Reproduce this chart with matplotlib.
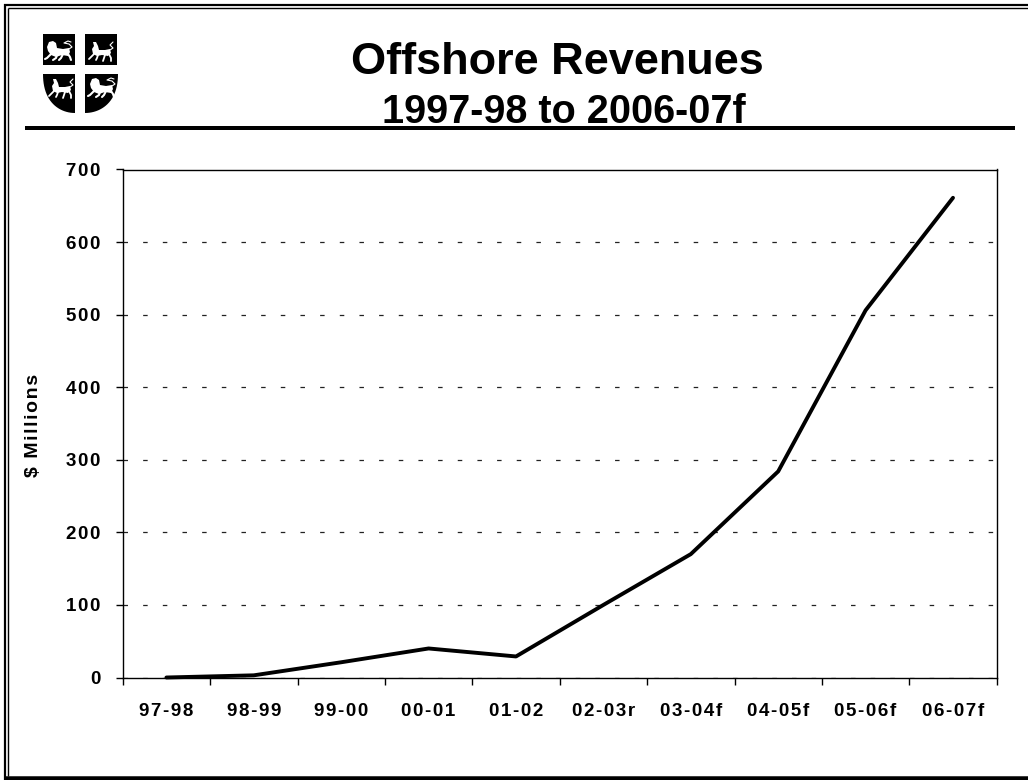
import matplotlib
matplotlib.use("Agg")
import matplotlib.pyplot as plt
from matplotlib.patches import Polygon, Rectangle
from matplotlib.lines import Line2D
import numpy as np

categories = ["97-98","98-99","99-00","00-01","01-02","02-03r","03-04f","04-05f","05-06f","06-07f"]
revenues = [0, 3, 21, 40, 29, 100, 170, 284, 506, 661]
yticks = [0,100,200,300,400,500,600,700]

W, H = 1028, 780
HS = "\u200a"
def spaced(s):
    return HS.join(s)

plt.rcParams['font.family'] = ['Liberation Sans', 'DejaVu Sans']
fig = plt.figure(figsize=(W/100, H/100), dpi=100, facecolor='white')

L, R, T, B = 122.7, 996.7, 169.5, 677.5
ax = fig.add_axes([L/W, 1-B/H, (R-L)/W, (B-T)/H])
x = np.arange(len(categories)) + 0.5
ax.plot(x, revenues, color='black', lw=2.8, solid_capstyle='round', solid_joinstyle='round', zorder=3, clip_on=False)
ax.set_xlim(0, len(categories))
ax.set_ylim(0, 700)
ax.set_yticks(yticks)
ax.set_yticklabels([spaced(str(v)) for v in yticks])
ax.set_xticks(np.arange(len(categories)+1))
ax.set_xticklabels([])
ax.set_xticks(x, minor=True)
ax.set_xticklabels([spaced(c) for c in categories], minor=True)
ax.tick_params(axis='x', which='minor', length=0, pad=18)
ax.tick_params(axis='x', which='major', length=6.5*0.72, width=1, color='black')
ax.tick_params(axis='y', length=7.5*0.72, width=1, pad=10.5)
for lab in ax.get_xticklabels(minor=True):
    lab.set_fontsize(13.5); lab.set_fontweight('bold')
for lab in ax.get_yticklabels():
    lab.set_fontsize(13.5); lab.set_fontweight('bold')
ax.yaxis.grid(True, color='#222222', lw=0.9, linestyle=(0, (3.6, 12.13)))
ax.set_axisbelow(True)
for s in ax.spines.values():
    s.set_linewidth(1.0); s.set_color('black')
ax.set_ylabel(spaced("$ Millions"), fontsize=14, fontweight='bold', labelpad=0)
ax.yaxis.set_label_coords((33-L)/(R-L), (B-425)/(B-T))
ax.yaxis.label.set_va('center')

def fx(v): return v/W
def fy(v): return 1-v/H
tr = fig.transFigure
def hline(y, x0, x1, lw):
    fig.add_artist(Line2D([fx(x0),fx(x1)],[fy(y),fy(y)],color='black',lw=lw*0.72,transform=tr,solid_capstyle='butt'))
def vline(x, y0, y1, lw):
    fig.add_artist(Line2D([fx(x),fx(x)],[fy(y0),fy(y1)],color='black',lw=lw*0.72,transform=tr,solid_capstyle='butt'))

# page frame
hline(5, 4, W, 2.2); hline(8, 8, W, 1.4)
vline(5, 4, H, 2.2); vline(8, 8, H-4, 1.4)
hline(778, 4, W, 4.5)
# header rule
hline(128, 25, 1015, 4)

fig.text(557/W, fy(63), "Offshore Revenues", ha='center', va='center', fontsize=32.5, fontweight='bold')
fig.text(563.5/W, fy(112), "1997-98 to 2006-07f", ha='center', va='center', fontsize=28.5, fontweight='bold', zorder=0)

# crest
def poly(pts, fc):
    fig.add_artist(Polygon([(fx(a),fy(b)) for a,b in pts], closed=True, fc=fc, ec='none', transform=tr))
ts = np.linspace(0, 1, 24)
def shield(x0, x1, left):
    w = x1 - x0
    if left:
        pts = [(x0,74),(x1,74),(x1,113)] + [(x1-w*np.sin(t*np.pi/2), 113-39*t**2) for t in ts]
    else:
        pts = [(x0,113)] + [(x0+w*np.sin(t*np.pi/2), 113-39*t**2) for t in ts] + [(x0,74)]
    poly(pts, 'black')
def stroke(pts, cx, cy, lw):
    fig.add_artist(Line2D([fx(cx+a) for a,b in pts],[fy(cy+b) for a,b in pts],color='white',lw=lw,transform=tr,
                          solid_capstyle='round', solid_joinstyle='round'))
def beast(cx, cy, big):
    if big:
        poly([(cx+a,cy+b) for a,b in [(-13,-3),(-11,-8),(-7,-9),(-4,-7),(-3,-2),(3,-1),(9,-2),(10,2),(8,6),(2,5),(-4,7),(-9,5),(-12,1)]],'white')
        stroke([(-9,4),(-13,8),(-15,9)],cx,cy,1.5)
        stroke([(-3,5),(-4,8),(-7,10)],cx,cy,1.5)
        stroke([(3,4),(1,8),(-1,10)],cx,cy,1.5)
        stroke([(8,4),(10,7),(11,10)],cx,cy,1.5)
        stroke([(9,-1),(12,-3),(9,-6),(4,-7),(8,-9),(11,-8)],cx,cy,0.8)
    else:
        poly([(cx+a,cy+b) for a,b in [(-7,-9),(-4,-9),(-2,-5),(-1,-1),(5,-1),(10,-2),(11,2),(8,5),(2,4),(-3,5),(-7,3),(-8,-2),(-6,-5)]],'white')
        stroke([(-6,3),(-9,6),(-11,8)],cx,cy,1.3)
        stroke([(-2,4),(-3,7),(-4,9)],cx,cy,1.3)
        stroke([(5,4),(4,7),(3,10)],cx,cy,1.3)
        stroke([(9,3),(11,7),(11,10)],cx,cy,1.3)
        stroke([(10,-1),(13,-3),(10,-6),(13,-9)],cx,cy,0.8)
fig.add_artist(Rectangle((fx(43),fy(65)),32/W,31/H,fc='black',ec='none',transform=tr))
fig.add_artist(Rectangle((fx(85),fy(65)),32/W,31/H,fc='black',ec='none',transform=tr))
shield(43,75,True); shield(85,118,False)
beast(60,50,True); beast(100,51,False); beast(60,88,False); beast(103,87,True)

fig.savefig("out.png", dpi=100, facecolor='white')
